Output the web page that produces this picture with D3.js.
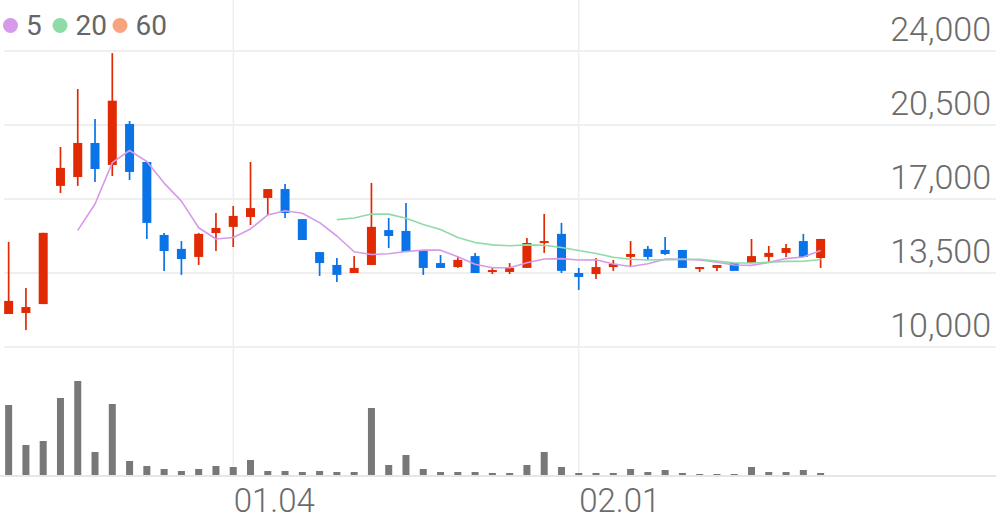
<!DOCTYPE html>
<html>
<head>
<meta charset="utf-8">
<script src="https://cdn.jsdelivr.net/npm/d3@7"></script>
<style>
  html, body { margin: 0; padding: 0; background: #fff; }
  svg { display: block; }
</style>
</head>
<body>
<div id="chart"></div>
<script>
// ---- data ----
const dates = ["12.13","12.14","12.15","12.18","12.19","12.20","12.21","12.22","12.26","12.27",
  "12.28","01.02","01.03","01.04","01.05","01.08","01.09","01.10","01.11","01.12",
  "01.15","01.16","01.17","01.18","01.19","01.22","01.23","01.24","01.25","01.26",
  "01.29","01.30","01.31","02.01","02.02","02.05","02.06","02.07","02.08","02.13",
  "02.14","02.15","02.16","02.19","02.20","02.21","02.22","02.23"];
const opens  = [11560,11610,12030,17620,18040,19650,18610,20550,18750,15300,
  14640,14260,15390,15680,16150,17050,17470,16050,14490,13880,
  13500,13880,15530,15490,14540,13970,13780,14300,13550,13550,
  13740,14920,15350,13500,13450,13780,14260,14640,14590,14590,
  13690,13740,13970,13970,14260,14450,15010,14210];
const closes = [12180,11890,15400,18470,19650,18420,21650,18280,15870,14540,
  14160,15350,15630,16200,16570,17470,16340,15060,13970,13410,
  13740,15680,15250,14490,13740,13740,14120,13500,13640,13740,
  14920,15010,13600,13310,13780,13930,14400,14260,14400,13740,
  13780,13880,13600,14300,14450,14680,14260,15110];
const highs  = [14970,12790,15400,19460,22200,20780,23900,20690,18750,15390,
  15010,15390,16340,16670,18750,17470,17710,16050,14490,14210,
  14300,17760,16100,16810,14540,14350,14300,14450,13780,13970,
  15160,16290,15870,13740,14210,14120,15010,14780,15200,14590,
  13780,13880,13970,15110,14780,14870,15350,15110];
const lows   = [11560,10800,12030,17280,17620,17800,18090,17900,15110,13600,
  13410,13880,14540,14730,15770,16240,16100,15060,13360,13070,
  13500,13880,14680,14490,13410,13740,13740,13500,13450,13450,
  13740,14450,13500,12700,13220,13600,13780,14120,14350,13740,
  13550,13600,13600,13970,13970,14260,14260,13740];
const volumes = [70,30,34,77,94,23,71,14,9,6,4,6,9,8,15,4,4,3,4,3,
  3,67,10,20,6,3,3,3,2,2,10,23,8,2,2,2,6,3,5,2,1,1,1,8,3,3,5,2];
const priceTicks = [10000,13500,17000,20500,24000];
const dateTicks = ["01.04","02.01"];
const maPeriods = [5,20,60];
const maColors = ["#d69aea","#8fdba8","#f6a37f"];

// moving average of closes (null until enough points)
function movingAverage(values, n) {
  return values.map((v, i) => i < n - 1 ? null : d3.mean(values.slice(i - n + 1, i + 1)));
}

// ---- layout ----
const W = 996, H = 519;
const svg = d3.select("#chart").append("svg").attr("width", W).attr("height", H);

const step = 17.276;
const x = d3.scaleBand().domain(dates).range([0, step * dates.length]).padding(0);
const cx = d => x(d) + x.bandwidth() / 2;
const y = d3.scaleLinear().domain([10000, 24000]).range([347, 51]);
const yv = d3.scaleLinear().domain([0, 100]).range([475, 375]);

const grid = "#efefef";
svg.append("g").selectAll("line").data(priceTicks).join("line")
  .attr("x1", 4).attr("x2", 996)
  .attr("y1", d => y(d)).attr("y2", d => y(d))
  .attr("stroke", grid).attr("stroke-width", 2);
svg.append("g").selectAll("line").data(dateTicks).join("line")
  .attr("x1", d => cx(d)).attr("x2", d => cx(d))
  .attr("y1", 0).attr("y2", 476)
  .attr("stroke", grid).attr("stroke-width", 1.5);
svg.append("line").attr("x1", 0).attr("x2", 996).attr("y1", 476).attr("y2", 476)
  .attr("stroke", "#e6e6e6").attr("stroke-width", 2);

// y axis labels
const yAxis = d3.axisRight(y).tickValues(priceTicks).tickSize(0).tickFormat(d3.format(","));
const yg = svg.append("g").attr("transform", "translate(991,0)").call(yAxis);
yg.select(".domain").remove();
yg.selectAll("text")
  .attr("x", 0).attr("dy", "-11px").attr("y", 0)
  .attr("text-anchor", "end")
  .attr("fill", "#6b6b6b")
  .style("font-family", "Roboto, sans-serif").style("font-weight", 300).style("font-size", "34px");

// x axis labels
const xAxis = d3.axisBottom(x).tickValues(dateTicks).tickSize(0);
const xg = svg.append("g").attr("transform", "translate(0,476)").call(xAxis);
xg.select(".domain").remove();
xg.selectAll(".tick text")
  .attr("x", 0.5).attr("y", 36).attr("dy", 0)
  .attr("text-anchor", "start")
  .attr("fill", "#6b6b6b")
  .style("font-family", "Roboto, sans-serif").style("font-weight", 300).style("font-size", "33px");

// volume bars
svg.append("g").selectAll("rect").data(dates).join("rect")
  .attr("x", d => cx(d) - 3.5).attr("width", 7)
  .attr("y", (d, i) => yv(volumes[i]))
  .attr("height", (d, i) => 475 - yv(volumes[i]))
  .attr("fill", "#787878");

// candles
const up = "#e12a03", down = "#0a73e8";
const cg = svg.append("g").selectAll("g").data(dates).join("g");
cg.append("line")
  .attr("x1", d => cx(d)).attr("x2", d => cx(d))
  .attr("y1", (d, i) => y(highs[i])).attr("y2", (d, i) => y(lows[i]))
  .attr("stroke", (d, i) => closes[i] >= opens[i] ? up : down)
  .attr("stroke-width", 1.7);
cg.append("rect")
  .attr("x", d => cx(d) - 4.5).attr("width", 9)
  .attr("y", (d, i) => y(Math.max(opens[i], closes[i])))
  .attr("height", (d, i) => Math.max(2, Math.abs(y(opens[i]) - y(closes[i]))))
  .attr("fill", (d, i) => closes[i] >= opens[i] ? up : down);

// moving averages
maPeriods.forEach((p, k) => {
  const ma = movingAverage(closes, p);
  const pts = dates.map((d, i) => [cx(d), ma[i]]).filter(q => q[1] != null);
  if (pts.length < 2) return;
  svg.append("path")
    .datum(pts)
    .attr("fill", "none")
    .attr("stroke", maColors[k])
    .attr("stroke-width", 1.6)
    .attr("stroke-linejoin", "round")
    .attr("d", d3.line().x(q => q[0]).y(q => y(q[1])));
});

// legend
const legendX = [10.5, 60, 120];
const lg = svg.append("g");
maPeriods.forEach((p, k) => {
  lg.append("circle").attr("cx", legendX[k]).attr("cy", 25.5).attr("r", 7.5).attr("fill", maColors[k]);
  lg.append("text").attr("x", legendX[k] + 15.5).attr("y", 34.5)
    .attr("fill", "#666")
    .style("font-family", "Roboto, sans-serif").style("font-size", "28px")
    .text(p);
});
</script>
</body>
</html>
